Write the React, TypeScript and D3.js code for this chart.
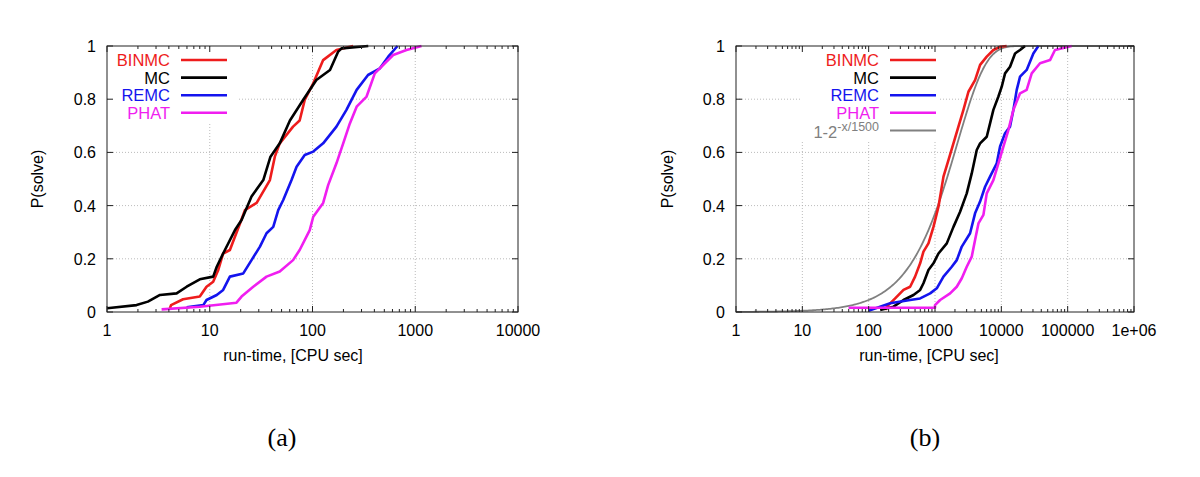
import React from "react";
import * as d3 from "d3";

// ---- data: [run-time in CPU sec, P(solve)] ----
const leftBinmc: [number, number][] = [
  [4.1, 0.014], [4.2, 0.026], [5.5, 0.048], [8.0, 0.058], [9.3, 0.095], [10.8, 0.114],
  [12.1, 0.158], [13.5, 0.22], [15.7, 0.233], [19.7, 0.333], [22, 0.383], [28.6, 0.41],
  [38.5, 0.496], [43, 0.584], [48, 0.634], [64.7, 0.697], [75, 0.72], [84, 0.797],
  [101.7, 0.86], [127, 0.947], [171, 0.985], [249, 1.0],
];
const leftMc: [number, number][] = [
  [1, 0.014], [1.94, 0.026], [2.5, 0.039], [3.28, 0.064], [4.76, 0.07], [5.96, 0.095],
  [8.0, 0.123], [10.8, 0.133], [11.7, 0.17], [13.5, 0.22], [17.6, 0.308], [20.4, 0.346],
  [25.5, 0.434], [33.2, 0.496], [39, 0.584], [48, 0.634], [60.3, 0.72], [81, 0.797],
  [109, 0.872], [148, 0.91], [178, 0.979], [192, 0.991], [349, 1.0],
];
const leftRemc: [number, number][] = [
  [5.96, 0.018], [8.65, 0.026], [9.3, 0.045], [11.7, 0.064], [13.5, 0.083], [15.7, 0.133],
  [21.2, 0.145], [25.5, 0.195], [30.8, 0.246], [35.7, 0.296], [41.5, 0.32], [46.4, 0.383],
  [51.9, 0.421], [62.5, 0.496], [70, 0.546], [84, 0.59], [101.7, 0.603], [127, 0.634],
  [171, 0.697], [214, 0.76], [269, 0.835], [347, 0.891], [453, 0.916], [546, 0.96], [672, 1.0],
];
const leftPhat: [number, number][] = [
  [3.4, 0.01], [8.0, 0.02], [18.2, 0.035], [20.4, 0.058], [26.5, 0.095], [35.7, 0.133],
  [48, 0.152], [64.7, 0.195], [75, 0.233], [94, 0.308], [101.7, 0.358], [127, 0.41],
  [142, 0.477], [171, 0.559], [199, 0.634], [231, 0.709], [269, 0.772], [336, 0.81],
  [404, 0.897], [506, 0.935], [610, 0.966], [822, 0.985], [1150, 1.0],
];

const rightBinmc: [number, number][] = [
  [177, 0.008], [188, 0.02], [251, 0.051], [335, 0.083], [422, 0.095], [501, 0.133],
  [597, 0.183], [670, 0.227], [797, 0.258], [948, 0.32], [1128, 0.396], [1266, 0.471],
  [1342, 0.509], [1595, 0.571], [1897, 0.634], [2255, 0.697], [2683, 0.76], [3191, 0.828],
  [4018, 0.872], [4783, 0.929], [6026, 0.96], [7586, 0.985], [9566, 0.997], [12039, 1.0],
];
const rightMc: [number, number][] = [
  [149, 0.008], [237, 0.02], [335, 0.045], [474, 0.064], [597, 0.083], [670, 0.108],
  [797, 0.158], [948, 0.183], [1128, 0.22], [1506, 0.258], [1897, 0.32], [2390, 0.377],
  [3010, 0.446], [3580, 0.521], [4260, 0.609], [4783, 0.634], [6026, 0.659], [6760, 0.709],
  [7586, 0.76], [9036, 0.81], [10140, 0.847], [11380, 0.897], [13530, 0.922], [16100, 0.972],
  [19150, 0.985], [22770, 1.0],
];
const rightRemc: [number, number][] = [
  [99.5, 0.005], [149, 0.02], [211, 0.033], [422, 0.045], [597, 0.051], [845, 0.07],
  [1064, 0.089], [1342, 0.133], [1791, 0.17], [2129, 0.195], [2535, 0.246], [3381, 0.296],
  [4018, 0.371], [4783, 0.415], [5690, 0.471], [6760, 0.509], [8530, 0.559], [9570, 0.622],
  [11380, 0.672], [13530, 0.697], [15200, 0.76], [17060, 0.835], [19150, 0.885],
  [24100, 0.91], [30400, 0.972], [36140, 1.0],
];
const rightPhat: [number, number][] = [
  [49.8, 0.016], [1000, 0.016], [1000, 0.026], [1195, 0.045], [1690, 0.07], [2129, 0.095],
  [2535, 0.127], [3010, 0.17], [3580, 0.208], [4018, 0.271], [4519, 0.333], [5370, 0.365],
  [6026, 0.446], [7586, 0.496], [9036, 0.559], [10740, 0.622], [12760, 0.684], [15200, 0.76],
  [19150, 0.822], [24100, 0.835], [28700, 0.897], [38300, 0.935], [54200, 0.947],
  [64400, 0.985], [114800, 1.0],
];

// reference curve from the key: 1-2^(-x/1500)
const expHalfTime = 1500;
const expCurve = (x: number) => 1 - Math.pow(2, -x / expHalfTime);

const yTicks = [0, 0.2, 0.4, 0.6, 0.8, 1];
const yTickLabels = ["0", "0.2", "0.4", "0.6", "0.8", "1"];
const leftXTicks = [1, 10, 100, 1000, 10000];
const leftXTickLabels = ["1", "10", "100", "1000", "10000"];
const rightXTicks = [1, 10, 100, 1000, 10000, 100000, 1000000];
const rightXTickLabels = ["1", "10", "100", "1000", "10000", "100000", "1e+06"];

const seriesNames = ["BINMC", "MC", "REMC", "PHAT"];
const seriesColors = ["#ee1c1c", "#000000", "#1414ee", "#f01ef0"];
const expColor = "#808080";

const FONT = "'Liberation Sans', Arial, Helvetica, sans-serif";
const FS = 16;
const top = 46;
const bottom = 312;

type PanelProps = {
  x0: number;
  x1: number;
  xMax: number;
  xTicks: number[];
  xTickLabels: string[];
  series: [number, number][][];
  xTitleX: number;
  yTitleX: number;
  keyTextX: number;
  keyBox: [number, number, number, number];
  showExp: boolean;
  caption: string;
  captionX: number;
};

function Panel(p: PanelProps) {
  const x = d3.scaleLog().domain([1, p.xMax]).range([p.x0, p.x1]);
  const y = d3.scaleLinear().domain([0, 1]).range([bottom, top]);
  const line = d3
    .line<[number, number]>()
    .x((d) => x(d[0]))
    .y((d) => y(d[1]));

  const minor: number[] = [];
  p.xTicks.slice(0, -1).forEach((t) => {
    for (let k = 2; k <= 9; k++) minor.push(t * k);
  });

  let expPath = "";
  if (p.showExp) {
    const xs = d3.range(0, Math.log10(p.xMax) + 0.0001, 0.02).map((l) => Math.pow(10, l));
    expPath = line(xs.map((v) => [v, expCurve(v)] as [number, number])) || "";
  }

  const clipId = "clip" + p.x0;
  const rows = p.showExp ? [...seriesNames, "exp"] : seriesNames;

  return (
    <g>
      <defs>
        <clipPath id={clipId}>
          <rect x={p.x0} y={top - 2} width={p.x1 - p.x0} height={bottom - top + 4} />
        </clipPath>
      </defs>
      {/* grid */}
      {p.xTicks.slice(1, -1).map((t) => (
        <line key={"gx" + t} x1={x(t)} x2={x(t)} y1={top} y2={bottom} stroke="#aaa" strokeWidth={0.8} strokeDasharray="1,2" />
      ))}
      {yTicks.slice(1, -1).map((t) => (
        <line key={"gy" + t} x1={p.x0} x2={p.x1} y1={y(t)} y2={y(t)} stroke="#aaa" strokeWidth={0.8} strokeDasharray="1,2" />
      ))}
      {/* curves */}
      <g clipPath={`url(#${clipId})`} fill="none" strokeLinejoin="round">
        {p.showExp && <path d={expPath} stroke={expColor} strokeWidth={1.8} />}
        {p.series.map((s, i) => (
          <path key={i} d={line(s) || ""} stroke={seriesColors[i]} strokeWidth={2.6} />
        ))}
      </g>
      {/* key */}
      <rect x={p.keyBox[0]} y={p.keyBox[1]} width={p.keyBox[2]} height={p.keyBox[3]} fill="#fff" />
      {rows.map((name, i) => {
        const ry = 60 + i * 17.6;
        const col = name === "exp" ? expColor : seriesColors[i];
        return (
          <g key={name}>
            {name === "exp" ? (
              <text x={p.keyTextX} y={ry + 8} textAnchor="end" fontFamily={FONT} fontSize={16.5} fill={col}>
                1-2<tspan dy={-7} fontSize={12.5}>-x/1500</tspan>
              </text>
            ) : (
              <text x={p.keyTextX} y={ry + 6} textAnchor="end" fontFamily={FONT} fontSize={16.5} fill={col}>
                {name}
              </text>
            )}
            <line x1={p.keyTextX + 11} x2={p.keyTextX + 57} y1={ry} y2={ry} stroke={col} strokeWidth={name === "exp" ? 2 : 2.6} />
          </g>
        );
      })}
      {/* frame & ticks */}
      <rect x={p.x0} y={top} width={p.x1 - p.x0} height={bottom - top} fill="none" stroke="#222" strokeWidth={1} />
      {p.xTicks.map((t) => (
        <g key={"tx" + t}>
          <line x1={x(t)} x2={x(t)} y1={bottom} y2={bottom - 6} stroke="#222" />
          <line x1={x(t)} x2={x(t)} y1={top} y2={top + 6} stroke="#222" />
        </g>
      ))}
      {minor.map((t) => (
        <g key={"mx" + t}>
          <line x1={x(t)} x2={x(t)} y1={bottom} y2={bottom - 3} stroke="#222" />
          <line x1={x(t)} x2={x(t)} y1={top} y2={top + 3} stroke="#222" />
        </g>
      ))}
      {yTicks.map((t) => (
        <g key={"ty" + t}>
          <line x1={p.x0} x2={p.x0 + 6} y1={y(t)} y2={y(t)} stroke="#222" />
          <line x1={p.x1} x2={p.x1 - 6} y1={y(t)} y2={y(t)} stroke="#222" />
        </g>
      ))}
      {/* tick labels */}
      {yTicks.map((t, i) => (
        <text key={"ly" + t} x={p.x0 - 11} y={y(t) + 6} textAnchor="end" fontFamily={FONT} fontSize={FS} fill="#000">
          {yTickLabels[i]}
        </text>
      ))}
      {p.xTicks.map((t, i) => (
        <text key={"lx" + t} x={x(t)} y={336} textAnchor="middle" fontFamily={FONT} fontSize={FS} fill="#000">
          {p.xTickLabels[i]}
        </text>
      ))}
      <text x={p.xTitleX} y={361} textAnchor="middle" fontFamily={FONT} fontSize={FS} fill="#000">
        run-time, [CPU sec]
      </text>
      <text
        transform={`translate(${p.yTitleX},179) rotate(-90)`}
        textAnchor="middle"
        dominantBaseline="central"
        fontFamily={FONT}
        fontSize={FS}
        fill="#000"
      >
        P(solve)
      </text>
      <text x={p.captionX} y={446} textAnchor="middle" fontFamily="'Liberation Serif', 'DejaVu Serif', serif" fontSize={26} fill="#000">
        {p.caption}
      </text>
    </g>
  );
}

export default function App() {
  return (
    <svg
      width={1200}
      height={477}
      style={{ position: "absolute", left: 0, top: 0, background: "#fff" }}
    >
      <rect width={1200} height={477} fill="#fff" />
      <Panel
        x0={107}
        x1={518}
        xMax={10000}
        xTicks={leftXTicks}
        xTickLabels={leftXTickLabels}
        series={[leftBinmc, leftMc, leftRemc, leftPhat]}
        xTitleX={293}
        yTitleX={37}
        keyTextX={170}
        keyBox={[108, 47, 130, 76]}
        showExp={false}
        caption="(a)"
        captionX={282}
      />
      <Panel
        x0={736}
        x1={1134}
        xMax={1000000}
        xTicks={rightXTicks}
        xTickLabels={rightXTickLabels}
        series={[rightBinmc, rightMc, rightRemc, rightPhat]}
        xTitleX={929}
        yTitleX={667}
        keyTextX={879}
        keyBox={[800, 47, 140, 95]}
        showExp={true}
        caption="(b)"
        captionX={925}
      />
    </svg>
  );
}
